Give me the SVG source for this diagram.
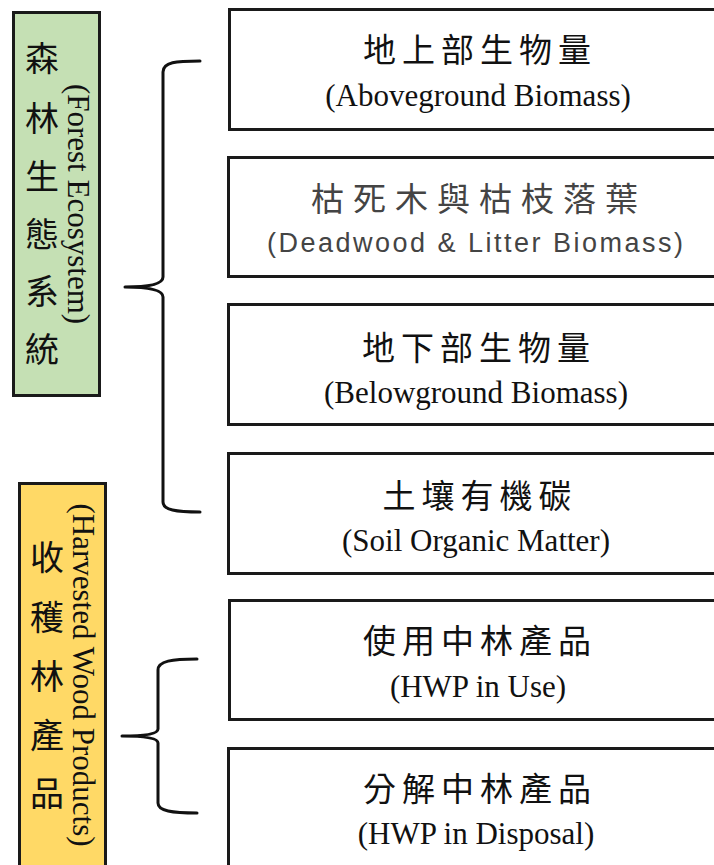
<svg xmlns="http://www.w3.org/2000/svg" width="714" height="865" viewBox="0 0 714 865">
<style>
.box{fill:#ffffff;stroke:#1a1a1a;stroke-width:3}
.zh{font-family:"Noto Sans CJK TC","Noto Sans CJK SC",sans-serif;font-size:33px;fill:#111;letter-spacing:6px;text-anchor:middle}
.en{font-family:"Liberation Serif","Times New Roman",serif;font-size:31px;fill:#111;text-anchor:middle}
.vzh{font-family:"Noto Sans CJK TC","Noto Sans CJK SC",sans-serif;font-size:34px;fill:#111;text-anchor:middle}
.brace{fill:none;stroke:#111;stroke-width:3;stroke-linejoin:round;stroke-linecap:round}
</style>
<rect width="714" height="865" fill="#ffffff"/>

<g id="forest-ecosystem">
<rect x="13.5" y="12.5" width="86" height="383" fill="#c5e0b4" stroke="#1a1a1a" stroke-width="3"/>
<text class="vzh"><tspan x="42" y="71">森</tspan><tspan x="42" y="131">林</tspan><tspan x="42" y="189">生</tspan><tspan x="42" y="247">態</tspan><tspan x="42" y="304">系</tspan><tspan x="42" y="362">統</tspan></text>
<text class="en" transform="translate(68,204) rotate(90)">(Forest Ecosystem)</text>
</g>

<g id="harvested-wood-products">
<rect x="19.5" y="483.5" width="86" height="400" fill="#ffd966" stroke="#1a1a1a" stroke-width="3"/>
<text class="vzh"><tspan x="47" y="570">收</tspan><tspan x="47" y="630">穫</tspan><tspan x="47" y="689">林</tspan><tspan x="47" y="748">產</tspan><tspan x="47" y="806">品</tspan></text>
<text class="en" transform="translate(73,675) rotate(90)">(Harvested Wood Products)</text>
</g>

<g id="aboveground">
<rect class="box" x="229.5" y="9.5" width="500" height="120"/>
<text class="zh" x="480" y="62">地上部生物量</text>
<text class="en" x="478" y="106">(Aboveground Biomass)</text>
</g>

<g id="deadwood">
<rect class="box" x="228.5" y="157.5" width="500" height="119"/>
<text class="zh" x="479" y="211" style="fill:#444;letter-spacing:9px">枯死木與枯枝落葉</text>
<text x="475" y="252" font-family="'Liberation Sans',Arial,sans-serif" font-size="27" fill="#444" text-anchor="middle" textLength="416" lengthAdjust="spacing">(Deadwood &amp; Litter Biomass)</text>
</g>

<g id="belowground">
<rect class="box" x="228.5" y="304.5" width="500" height="120"/>
<text class="zh" x="479" y="360">地下部生物量</text>
<text class="en" x="476" y="403">(Belowground Biomass)</text>
</g>

<g id="soil">
<rect class="box" x="228.5" y="453.5" width="500" height="120"/>
<text class="zh" x="480" y="508">土壤有機碳</text>
<text class="en" x="476" y="551">(Soil Organic Matter)</text>
</g>

<g id="hwp-use">
<rect class="box" x="229.5" y="600.5" width="500" height="119"/>
<text class="zh" x="480" y="653">使用中林產品</text>
<text class="en" x="478" y="697">(HWP in Use)</text>
</g>

<g id="hwp-disposal">
<rect class="box" x="228.5" y="748.5" width="500" height="140"/>
<text class="zh" x="480" y="801">分解中林產品</text>
<text class="en" x="476" y="844">(HWP in Disposal)</text>
</g>

<g id="connectors">
<path class="brace" d="M200,61 C176,61 163,62 163,72 L163,277 C163,284 150,287 125,287 C150,287 163,290 163,297 L163,502 C163,510 176,512 200,512"/>
<path class="brace" d="M197,659 C172,659 158,661 158,670 L158,729 C158,734 145,736 122,736 C145,736 158,738 158,743 L158,803 C158,811 172,813 197,813"/>
</g>
</svg>
